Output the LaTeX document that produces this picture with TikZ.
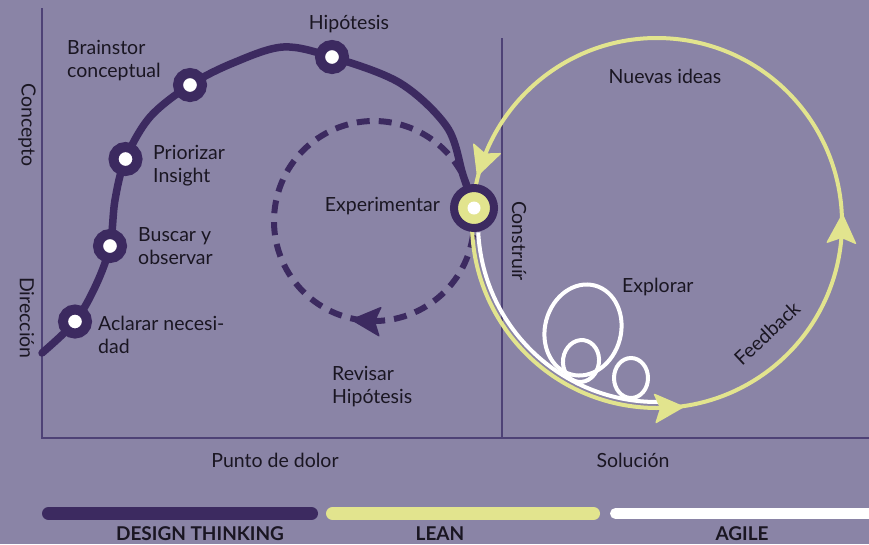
\documentclass[tikz,border=0pt]{standalone}
\usepackage{fontspec}
\setmainfont{Lato}
\usetikzlibrary{decorations.markings}

\definecolor{bgc}{RGB}{138,132,166}
\definecolor{dt}{RGB}{60,42,96}
\definecolor{ln}{RGB}{226,228,142}
\definecolor{axisc}{RGB}{78,66,118}
\definecolor{ink}{RGB}{26,22,34}

% rounded arrow head, drawn along a path by the markings library
\newcommand\roundhead[1]{\fill[#1, rounded corners=2pt] (17,0) -- (-14,15.5) -- (-8,0) -- (-14,-15.5) -- cycle;}

\begin{document}
\begin{tikzpicture}[x=1pt, y=-1pt,
  lbl/.style={font=\fontsize{19.5}{22.5}\selectfont, text=ink, inner sep=0pt},
  lblL/.style={lbl, align=left, anchor=base west},
  band/.style={font=\bfseries\fontsize{19}{22}\selectfont, text=ink, inner sep=0pt, anchor=base},
  axisline/.style={axisc, line width=1.3pt},
  stepdot/.style={circle, draw=dt, fill=white, line width=10pt, minimum size=24pt, inner sep=0pt},
  hubdot/.style={circle, draw=dt, fill=ln, line width=8pt, minimum size=40pt, inner sep=0pt},
  dtpath/.style={dt, line width=7.5pt, line cap=round},
  loopline/.style={white, line width=4pt},
  dashloop/.style={dt, line width=6pt, dash pattern=on 13pt off 9pt,
    postaction={decorate}, decoration={markings,
      mark=at position 0.255 with {\roundhead{dt}}}},
  leanloop/.style={ln, line width=4pt,
    postaction={decorate}, decoration={markings,
      mark=at position 0.2725 with {\roundhead{ln}},
      mark=at position 0.507 with {\roundhead{ln}},
      mark=at position 0.9586 with {\roundhead{ln}}}},
]
\fill[bgc] (0,0) rectangle (869,544);
\useasboundingbox (0,0) rectangle (869,544);

% axes and divider
\coordinate (ytop) at (42,8);
\coordinate (origin) at (42,438);
\coordinate (xend) at (869,438);
\coordinate (dtop) at (502,38);
\coordinate (dbot) at (502,438);
\draw[axisline] (ytop) -- (origin) -- (xend);
\draw[axisline] (dtop) -- (dbot);

% dashed experiment loop
\draw[dashloop] (374,221) ++(8:100) arc[start angle=8, end angle=345, radius=100];

% agile path with its exploration loops
\draw[loopline] (657,223) ++(177:179) arc[start angle=177, end angle=88, radius=179];
\draw[loopline, rotate around={-15:(583,330)}] (583,330) ellipse[x radius=38, y radius=46];
\draw[loopline, rotate around={-8:(581,361)}] (581,361) ellipse[x radius=18, y radius=21];
\draw[loopline] (631,378) ellipse[x radius=17, y radius=20];

% lean loop
\draw[leanloop] (657,223) ++(184.7:185) arc[start angle=184.7, end angle=-175.3, radius=185];

% design thinking path
\draw[dtpath] plot[smooth, tension=0.55] coordinates {(42,353) (75,321.5) (96,285) (110,246) (115,200) (125.5,159) (150,117) (190,85) (233,63) (283,47) (332,57) (400,83) (447,127) (463,175) (474,208)};

\node[stepdot] (aclarar) at (75,321.5) {};
\node[stepdot] (buscar) at (110,246) {};
\node[stepdot] (priorizar) at (125.5,159) {};
\node[stepdot] (brainstor) at (190,85) {};
\node[stepdot] (hipotesis) at (332,57) {};
\node[hubdot] (exp) at (474,208) {};
\fill[white] (exp.center) circle[radius=6.5];

% labels (multi-line labels are placed by their last baseline)
\node[lbl, anchor=base] (tHip) at (349,29) {Hipótesis};
\node[lblL] (tBrain) at (67,77) {Brainstor\\conceptual};
\node[lblL] (tPrio) at (153,182) {Priorizar\\Insight};
\node[lblL] (tBusc) at (138,264) {Buscar y\\observar};
\node[lblL] (tAcl) at (98,353) {Aclarar necesi-\\dad};
\node[lbl, anchor=base east] (tExp) at (440,211) {Experimentar};
\node[lblL] (tRev) at (332,403) {Revisar\\Hipótesis};
\node[lbl, anchor=base] (tNuev) at (665,83) {Nuevas ideas};
\node[lbl, anchor=base west] (tExpl) at (622,292) {Explorar};
\node[lbl, rotate=43] (tFeed) at (767,333) {Feedback};
\node[lbl, rotate=-90] (tCons) at (519,241) {Construír};
\node[lbl, rotate=-90] (tConc) at (27,125) {Concepto};
\node[lbl, rotate=-90] (tDir) at (27,318) {Dirección};
\node[lbl, anchor=base] (tPunto) at (275,467) {Punto de dolor};
\node[lbl, anchor=base] (tSol) at (633,467) {Solución};

% method bands
\draw[dt, line width=13pt, line cap=round] (48.5,513.5) -- (311.5,513.5);
\draw[ln, line width=13pt, line cap=round] (332.5,513.5) -- (593.5,513.5);
\draw[white, line width=11pt, line cap=round] (615.5,513.5) -- (885,513.5);
\node[band] (bDT) at (200,540) {DESIGN THINKING};
\node[band] (bLean) at (440,540) {LEAN};
\node[band] (bAgile) at (742,540) {AGILE};
\end{tikzpicture}
\end{document}
